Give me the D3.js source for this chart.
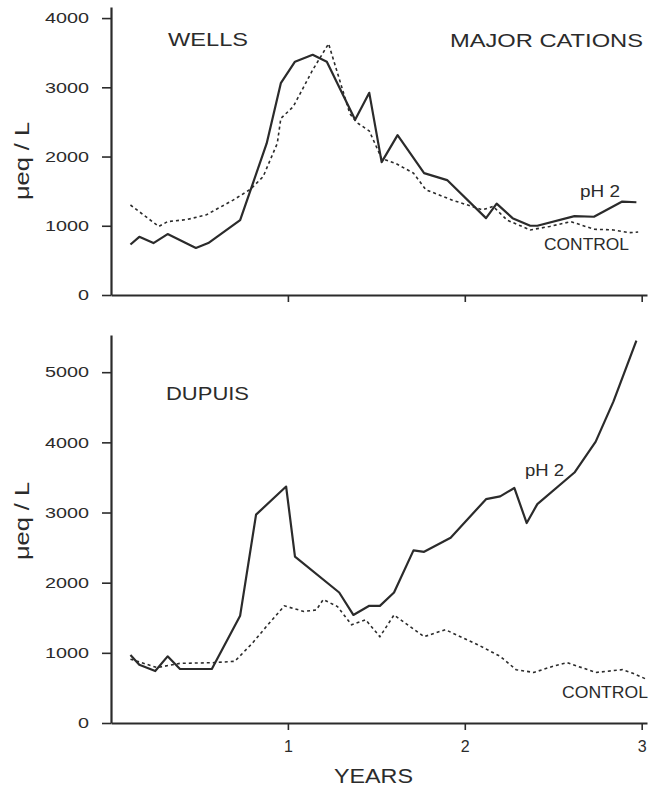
<!DOCTYPE html>
<html>
<head>
<meta charset="utf-8">
<script src="https://cdn.jsdelivr.net/npm/d3@7"></script>
<style>
  body { margin: 0; background: #fff; }
  svg { display: block; font-family: "Liberation Sans", Arial, sans-serif; }
</style>
</head>
<body>
<svg id="svg" width="650" height="789"></svg>
<script>
// x tick values
const yearTicks = [1, 2, 3];
const wellsTicks = [0, 1000, 2000, 3000, 4000];
const dupuisTicks = [0, 1000, 2000, 3000, 4000, 5000];

// WELLS, pH 2
const wellsPh2Years = [0.11, 0.16, 0.24, 0.32, 0.48, 0.55, 0.73, 0.88, 0.96, 1.04, 1.14, 1.22, 1.38, 1.46, 1.53, 1.62, 1.77, 1.90, 2.12, 2.18, 2.27, 2.37, 2.41, 2.62, 2.73, 2.89, 2.97];
const wellsPh2 = [730, 840, 750, 880, 680, 750, 1080, 2190, 3060, 3370, 3470, 3370, 2530, 2920, 1920, 2310, 1760, 1660, 1110, 1320, 1110, 1000, 1000, 1140, 1130, 1350, 1340];
// WELLS, control
const wellsControlYears = [0.11, 0.27, 0.32, 0.43, 0.54, 0.69, 0.79, 0.86, 0.94, 0.96, 1.03, 1.14, 1.23, 1.35, 1.39, 1.46, 1.53, 1.61, 1.71, 1.78, 1.93, 2.10, 2.16, 2.24, 2.37, 2.48, 2.60, 2.73, 2.84, 2.93, 2.98];
const wellsControl = [1300, 990, 1060, 1090, 1160, 1370, 1530, 1710, 2190, 2550, 2720, 3250, 3630, 2620, 2490, 2370, 1970, 1900, 1760, 1520, 1370, 1230, 1280, 1080, 940, 990, 1060, 950, 940, 900, 910];

// DUPUIS, pH 2
const dupuisPh2Years = [0.11, 0.16, 0.25, 0.32, 0.39, 0.57, 0.73, 0.82, 0.99, 1.04, 1.29, 1.37, 1.46, 1.52, 1.60, 1.71, 1.77, 1.92, 2.12, 2.20, 2.28, 2.35, 2.41, 2.62, 2.74, 2.84, 2.97];
const dupuisPh2 = [970, 830, 740, 950, 770, 770, 1530, 2970, 3370, 2370, 1860, 1540, 1670, 1670, 1860, 2460, 2440, 2640, 3190, 3230, 3350, 2850, 3120, 3570, 4010, 4580, 5450];
// DUPUIS, control
const dupuisControlYears = [0.11, 0.26, 0.39, 0.58, 0.70, 0.80, 0.88, 0.98, 1.09, 1.16, 1.20, 1.28, 1.36, 1.44, 1.52, 1.60, 1.77, 1.89, 2.07, 2.20, 2.29, 2.39, 2.50, 2.58, 2.74, 2.89, 2.95, 3.03];
const dupuisControl = [910, 790, 850, 860, 880, 1140, 1380, 1670, 1590, 1610, 1760, 1660, 1400, 1470, 1230, 1540, 1230, 1330, 1120, 950, 760, 720, 810, 860, 720, 760, 710, 620];

const ink = "#2b2b2b";
const svg = d3.select("#svg");

const x = d3.scaleLinear().domain([0, 3.03]).range([111, 647]);

// the scan's lettering is wider than Arial, so stretch each text to its width
function stretch(sel, w) {
  sel.attr("textLength", w).attr("lengthAdjust", "spacingAndGlyphs");
}

// one panel
function drawPanel(opt) {
  const y = d3.scaleLinear().domain([0, opt.yMax]).range([opt.bottom, opt.top]);
  const g = svg.append("g");

  const yAxis = g.append("g")
    .attr("transform", `translate(${x(0)},0)`)
    .call(d3.axisLeft(y).tickValues(opt.yTicks).tickSize(9).tickSizeOuter(0).tickPadding(13).tickFormat(d3.format("d")));
  const xAxis = g.append("g")
    .attr("transform", `translate(0,${opt.bottom})`)
    .call(d3.axisBottom(x).tickValues(yearTicks).tickSize(7).tickSizeOuter(0).tickPadding(11)
      .tickFormat(opt.xLabels ? d3.format("d") : () => ""));

  [yAxis, xAxis].forEach((a) => {
    a.select(".domain").attr("stroke", ink).attr("stroke-width", 2.2);
    a.selectAll(".tick line").attr("stroke", ink).attr("stroke-width", 1.6);
    a.selectAll(".tick text").attr("fill", ink);
  });
  yAxis.selectAll(".tick text")
    .attr("font-size", 15)
    .each(function (d) {
      stretch(d3.select(this), String(d).length * 11);
    });
  xAxis.selectAll(".tick text").attr("font-size", 16);

  const line = d3.line().x((d) => x(d[0])).y((d) => y(d[1]));

  g.append("path")
    .datum(d3.zip(opt.ctrlYears, opt.ctrl))
    .attr("d", line)
    .attr("fill", "none")
    .attr("stroke", ink)
    .attr("stroke-width", 1.6)
    .attr("stroke-dasharray", "3,3");

  g.append("path")
    .datum(d3.zip(opt.phYears, opt.ph))
    .attr("d", line)
    .attr("fill", "none")
    .attr("stroke", ink)
    .attr("stroke-width", 2.2)
    .attr("stroke-linejoin", "round");

  // y title
  g.append("text")
    .attr("transform", `translate(29,${opt.titleY}) rotate(-90)`)
    .attr("text-anchor", "middle")
    .attr("font-size", 21)
    .attr("fill", ink)
    .text("μeq / L")
    .call(stretch, 78);

  opt.labels.forEach((l) => {
    g.append("text")
      .attr("x", l.x)
      .attr("y", l.y)
      .attr("font-size", l.size)
      .attr("fill", ink)
      .text(l.text)
      .call(stretch, l.w);
  });
}

drawPanel({
  top: 7, bottom: 295, yMax: 4160, yTicks: wellsTicks, xLabels: false,
  phYears: wellsPh2Years, ph: wellsPh2,
  ctrlYears: wellsControlYears, ctrl: wellsControl,
  titleY: 161,
  labels: [
    { text: "WELLS", x: 168, y: 46, size: 18.5, w: 80 },
    { text: "MAJOR CATIONS", x: 450, y: 47, size: 18.5, w: 193 },
    { text: "pH 2", x: 580, y: 197, size: 16, w: 40 },
    { text: "CONTROL", x: 544, y: 250, size: 17, w: 85 },
  ],
});

drawPanel({
  top: 335, bottom: 723, yMax: 5530, yTicks: dupuisTicks, xLabels: true,
  phYears: dupuisPh2Years, ph: dupuisPh2,
  ctrlYears: dupuisControlYears, ctrl: dupuisControl,
  titleY: 521,
  labels: [
    { text: "DUPUIS", x: 166, y: 400, size: 18.5, w: 83 },
    { text: "pH 2", x: 525, y: 476, size: 16, w: 39 },
    { text: "CONTROL", x: 562, y: 698, size: 17, w: 86 },
  ],
});

// x title
svg.append("text")
  .attr("x", 334)
  .attr("y", 783)
  .attr("font-size", 21)
  .attr("fill", ink)
  .text("YEARS")
  .call(stretch, 79);
</script>
</body>
</html>
